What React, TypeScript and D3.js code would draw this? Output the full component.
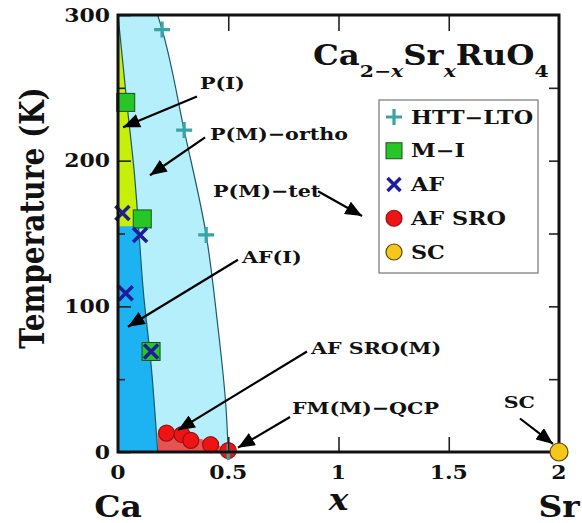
import React, { useRef, useEffect } from 'react';
import * as d3 from 'd3';

const FONT = '"DejaVu Serif", serif';
const STRETCH = 1.22; // the reference lettering is wide

// markers [x, T]
const httLto = [[0.2, 290], [0.3, 221], [0.4, 149], [0.5, 0]];
const metalInsulator = [[0.035, 240], [0.11, 160], [0.15, 69]];
const afPoints = [[0.02, 164], [0.1, 149], [0.035, 109], [0.15, 69]];
const afSro = [[0.22, 13], [0.29, 12], [0.33, 8], [0.42, 5], [0.5, 1]];
const scPoints = [[2, 0]];

// phase boundaries [x, T]
const miBoundary = [[0, 300], [0.04, 240], [0.075, 190], [0.093, 155], [0.115, 110], [0.15, 60], [0.18, 0]];
const structBoundary = [[0.18, 300], [0.2, 290], [0.3, 221], [0.4, 149], [0.45, 90], [0.49, 30], [0.5, 0]];
const afSroTop = [[0.18, 13], [0.3, 11], [0.45, 5], [0.5, 0]];
const afTopT = 155;

const yTicks = [0, 100, 200, 300];
const yMinor = [50, 150, 250];
const xTicks = [0, 0.5, 1, 1.5, 2];

const legendItems = ['HTT−LTO', 'M−I', 'AF', 'AF SRO', 'SC'];

// annotations: text position, arrow start, arrow tip (x, T)
const notes = [
  { label: 'P(I)', tx: 0.372, tT: 249, anchor: 'start', from: [0.358, 244], to: [0.023, 223] },
  { label: 'P(M)−ortho', tx: 0.417, tT: 214, anchor: 'start', from: [0.395, 216], to: [0.145, 190] },
  { label: 'P(M)−tet', tx: 0.431, tT: 175, anchor: 'start', from: [0.907, 179], to: [1.107, 162] },
  { label: 'AF(I)', tx: 0.562, tT: 130, anchor: 'start', from: [0.544, 132], to: [0.045, 86] },
  { label: 'AF SRO(M)', tx: 0.875, tT: 67, anchor: 'start', from: [0.857, 69], to: [0.272, 15] },
  { label: 'FM(M)−QCP', tx: 0.789, tT: 26, anchor: 'start', from: [0.78, 24], to: [0.544, 3] },
  { label: 'SC', tx: 1.82, tT: 30, anchor: 'middle', from: [1.823, 23], to: [1.973, 5.5] },
];

const C = {
  lightBlue: '#b4effb',
  darkBlue: '#1db2f2',
  yellow: '#c8ef0a',
  redRegion: '#e65353',
  red: '#ee1414',
  green: '#25c625',
  navy: '#1c1c9c',
  teal: '#3aa3a5',
  gold: '#f6c61c',
};

const App = () => {
  const ref = useRef<SVGSVGElement>(null);

  useEffect(() => {
    const margin = { top: 15, right: 23, bottom: 71, left: 118 };
    const width = 582 - margin.left - margin.right;
    const height = 523 - margin.top - margin.bottom;

    const root = d3.select(ref.current);
    root.selectAll('*').remove();
    root.append('rect').attr('width', 582).attr('height', 523).attr('fill', '#fff');

    const svg = root.append('g').attr('transform', `translate(${margin.left},${margin.top})`);

    const x = d3.scaleLinear().domain([0, 2]).range([0, width]);
    const y = d3.scaleLinear().domain([0, 300]).range([height, 0]);

    // wide bold lettering placed at (px, py)
    const label = (g, px, py, txt, size, anchor = 'start', sx = STRETCH) =>
      g.append('text')
        .attr('transform', `translate(${px},${py}) scale(${sx},1)`)
        .attr('text-anchor', anchor)
        .attr('font-family', FONT).attr('font-weight', 'bold').attr('font-size', size)
        .attr('fill', '#111')
        .text(txt);

    svg.append('clipPath').attr('id', 'plot-clip')
      .append('rect').attr('width', width).attr('height', height);

    const regions = svg.append('g').attr('clip-path', 'url(#plot-clip)');

    const areaH = d3.area<number[]>()
      .y(d => y(d[1]))
      .x0(x(0))
      .x1(d => x(d[0]))
      .curve(d3.curveMonotoneY);
    const byT = (arr) => arr.slice().sort((a, b) => a[1] - b[1]);

    regions.append('path').datum(byT(structBoundary.concat([[0.18, 310]])))
      .attr('d', areaH).attr('fill', C.lightBlue);
    regions.append('path').datum(byT(miBoundary.filter(d => d[1] >= afTopT)))
      .attr('d', areaH).attr('fill', C.yellow);
    regions.append('path').datum(byT(miBoundary.filter(d => d[1] <= afTopT)))
      .attr('d', areaH).attr('fill', C.darkBlue);

    regions.append('path').datum(afSroTop)
      .attr('d', d3.area<number[]>().x(d => x(d[0])).y0(y(0)).y1(d => y(d[1])).curve(d3.curveMonotoneX))
      .attr('fill', C.redRegion);

    const lineH = d3.line<number[]>().x(d => x(d[0])).y(d => y(d[1])).curve(d3.curveMonotoneY);
    [miBoundary, structBoundary].forEach(b =>
      regions.append('path').datum(byT(b))
        .attr('d', lineH).attr('fill', 'none').attr('stroke', '#1d5a66').attr('stroke-width', 1.2));

    // markers
    const marks = svg.append('g');
    const drawCircle = (g, cx, cy, r, fill, stroke) =>
      g.append('circle').attr('cx', cx).attr('cy', cy).attr('r', r)
        .attr('fill', fill).attr('stroke', stroke).attr('stroke-width', 1.2);
    const drawPlus = (g, cx, cy, s) =>
      g.append('path').attr('d', `M${cx - s},${cy}H${cx + s}M${cx},${cy - s}V${cy + s}`)
        .attr('stroke', C.teal).attr('stroke-width', 3.2).attr('fill', 'none');
    const drawSquare = (g, cx, cy, s) =>
      g.append('rect').attr('x', cx - s).attr('y', cy - s).attr('width', 2 * s).attr('height', 2 * s)
        .attr('fill', C.green).attr('stroke', '#1c4f1c').attr('stroke-width', 1);
    const drawCross = (g, cx, cy, s) =>
      g.append('path').attr('d', `M${cx - s},${cy - s}L${cx + s},${cy + s}M${cx - s},${cy + s}L${cx + s},${cy - s}`)
        .attr('stroke', C.navy).attr('stroke-width', 3.5).attr('fill', 'none');

    afSro.forEach(d => drawCircle(marks, x(d[0]), y(d[1]), 8, C.red, '#9a1010'));
    httLto.forEach(d => drawPlus(marks, x(d[0]), y(d[1]), 8));
    metalInsulator.forEach(d => drawSquare(marks, x(d[0]), y(d[1]), 9));
    afPoints.forEach(d => drawCross(marks, x(d[0]), y(d[1]), 7));

    // frame and axes
    const clean = (g) => { g.select('.domain').remove(); g.selectAll('line').attr('stroke', '#222').attr('stroke-width', 1.6); };

    svg.append('g').attr('transform', `translate(0,${height})`)
      .call(d3.axisBottom(x).tickValues(xTicks).tickFormat(() => '').tickSizeInner(-15))
      .call(clean)
      .call(g => g.selectAll('.tick').filter(d => d === 0 || d === 2).select('line').remove());
    xTicks.forEach(v => label(svg, x(v), height + 27, d3.format('')(v), 18, 'middle'));

    svg.append('g')
      .call(d3.axisLeft(y).tickValues(yTicks).tickFormat(() => '').tickSizeInner(-13))
      .call(clean);
    yTicks.forEach(v => label(svg, -8, y(v) + 6.5, String(v), 18, 'end'));
    svg.append('g')
      .call(d3.axisLeft(y).tickValues(yMinor).tickFormat(() => '').tickSizeInner(-7))
      .call(clean);

    svg.append('g')
      .call(d3.axisTop(x).tickValues([0.5, 1, 1.5]).tickFormat(() => '').tickSizeInner(-16))
      .call(clean);
    svg.append('g').attr('transform', `translate(${width},0)`)
      .call(d3.axisRight(y).tickValues([50, 100, 150, 200, 250]).tickFormat(() => '').tickSizeInner(-10))
      .call(clean);

    svg.append('path')
      .attr('d', `M0,0V${height}H${width}V0Z`)
      .attr('fill', 'none').attr('stroke', '#111').attr('stroke-width', 3);

    // SC marker on top of frame
    scPoints.forEach(d => drawCircle(svg, x(d[0]), y(d[1]), 9, C.gold, '#5a4a00'));

    // annotations
    const defs = root.append('defs');
    defs.append('marker').attr('id', 'arrow-head')
      .attr('viewBox', '0 0 12 10').attr('refX', 12).attr('refY', 5)
      .attr('markerUnits', 'userSpaceOnUse')
      .attr('markerWidth', 17).attr('markerHeight', 14).attr('orient', 'auto')
      .append('path').attr('d', 'M0,0L12,5L0,10Z').attr('fill', '#000');

    const ann = svg.append('g');
    notes.forEach(n => {
      ann.append('line')
        .attr('x1', x(n.from[0])).attr('y1', y(n.from[1]))
        .attr('x2', x(n.to[0])).attr('y2', y(n.to[1]))
        .attr('stroke', '#000').attr('stroke-width', 2.2)
        .attr('marker-end', 'url(#arrow-head)');
      label(ann, x(n.tx), y(n.tT), n.label, 17.5, n.anchor, 1.18);
    });

    // title
    const title = root.append('text')
      .attr('transform', 'translate(313,65) scale(1.2,1)')
      .attr('font-family', FONT).attr('font-weight', 'bold').attr('font-size', 27).attr('fill', '#111');
    title.append('tspan').text('Ca');
    title.append('tspan').attr('dy', 12).attr('font-size', 17).text('2−');
    title.append('tspan').attr('font-size', 17).attr('font-style', 'italic').text('x');
    title.append('tspan').attr('dy', -12).text('Sr');
    title.append('tspan').attr('dy', 12).attr('font-size', 17).attr('font-style', 'italic').text('x');
    title.append('tspan').attr('dy', -12).text('RuO');
    title.append('tspan').attr('dy', 12).attr('font-size', 17).text('4');

    // legend
    const legend = root.append('g').attr('transform', 'translate(379,100)');
    legend.append('rect').attr('width', 159).attr('height', 173)
      .attr('fill', '#fff').attr('stroke', '#777').attr('stroke-width', 1.2);
    const ly = d3.scalePoint().domain(legendItems).range([17, 152]);
    legendItems.forEach((lab, i) => {
      const cy = ly(lab);
      if (i === 0) drawPlus(legend, 15, cy, 8);
      if (i === 1) drawSquare(legend, 15, cy, 8);
      if (i === 2) drawCross(legend, 15, cy, 6.5);
      if (i === 3) drawCircle(legend, 15, cy, 8, C.red, '#9a1010');
      if (i === 4) drawCircle(legend, 15, cy, 8, C.gold, '#5a4a00');
      label(legend, 32, cy + 6.5, lab, 18, 'start', 1.24);
    });

    // axis titles
    root.append('text')
      .attr('transform', 'translate(44,218) scale(1.2,1) rotate(-90)')
      .attr('text-anchor', 'middle')
      .attr('font-family', FONT).attr('font-weight', 'bold').attr('font-size', 28).attr('fill', '#111')
      .text('Temperature (K)');
    label(root, margin.left + x(0), 517, 'Ca', 30, 'middle', 1.1);
    label(root, margin.left + x(1), 510, 'x', 30, 'middle', 1.1).attr('font-style', 'italic');
    label(root, margin.left + x(2), 517, 'Sr', 30, 'middle', 1.1);
  }, []);

  return (
    <svg ref={ref} width={582} height={523}
      style={{ position: 'absolute', left: 0, top: 0, display: 'block' }} />
  );
};

export default App;
